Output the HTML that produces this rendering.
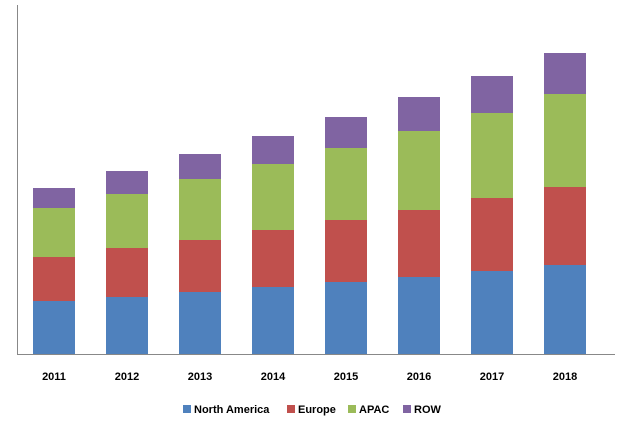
<!DOCTYPE html>
<html><head><meta charset="utf-8"><style>
body{margin:0;background:#fff;}
svg{display:block;font-family:"Liberation Sans",sans-serif;}
</style></head><body>
<svg id="c" width="620" height="433">
<line x1="17.5" y1="5" x2="17.5" y2="354" stroke="#888"/>
<line x1="17" y1="354.5" x2="615" y2="354.5" stroke="#888"/>
<g id="bars"></g><g id="labels"></g>
<g font-size="11" font-weight="bold" fill="#000">
<rect x="183" y="405" width="8" height="8" fill="#4F81BD"/>
<text x="194" y="413">North America</text>
<rect x="287" y="405" width="8" height="8" fill="#C0504D"/>
<text x="298" y="413">Europe</text>
<rect x="348" y="405" width="8" height="8" fill="#9BBB59"/>
<text x="359" y="413">APAC</text>
<rect x="403" y="405" width="8" height="8" fill="#8064A2"/>
<text x="414" y="413">ROW</text>
</g>
</svg>
<script>
const categories=["2011","2012","2013","2014","2015","2016","2017","2018"];
const northAmerica=[53,57,62,67,72,77,83,89];
const europe=[44,49,52,57,62,67,73,78];
const apac=[49,54,61,66,72,79,85,93];
const row=[20,23,25,28,31,34,37,41];
const seriesNames=["north-america","europe","apac","row"];
const colors=["#4F81BD","#C0504D","#9BBB59","#8064A2"];
const series=[northAmerica,europe,apac,row];
const base=354,x0=17,pitch=73,bw=42,yMax=349,plotH=349;
const ns="http://www.w3.org/2000/svg";
function xC(i){return x0+37+i*pitch;}
function yS(v){return base-v/yMax*plotH;}
const gb=document.getElementById('bars'),gl=document.getElementById('labels');
categories.forEach((c,i)=>{
  let cum=0;
  series.forEach((s,k)=>{
    const r=document.createElementNS(ns,'rect');
    const y1=yS(cum+s[i]),y0=yS(cum);
    r.setAttribute('x',xC(i)-bw/2);r.setAttribute('y',y1);
    r.setAttribute('width',bw);r.setAttribute('height',y0-y1);
    r.setAttribute('fill',colors[k]);
    
    
    gb.appendChild(r);cum+=s[i];
  });
  const t=document.createElementNS(ns,'text');
  t.setAttribute('x',xC(i));t.setAttribute('y',380);
  t.setAttribute('text-anchor','middle');t.setAttribute('font-size','11');t.setAttribute('font-weight','bold');
  t.textContent=c;
  
  
  gl.appendChild(t);
});
</script>
</body></html>
